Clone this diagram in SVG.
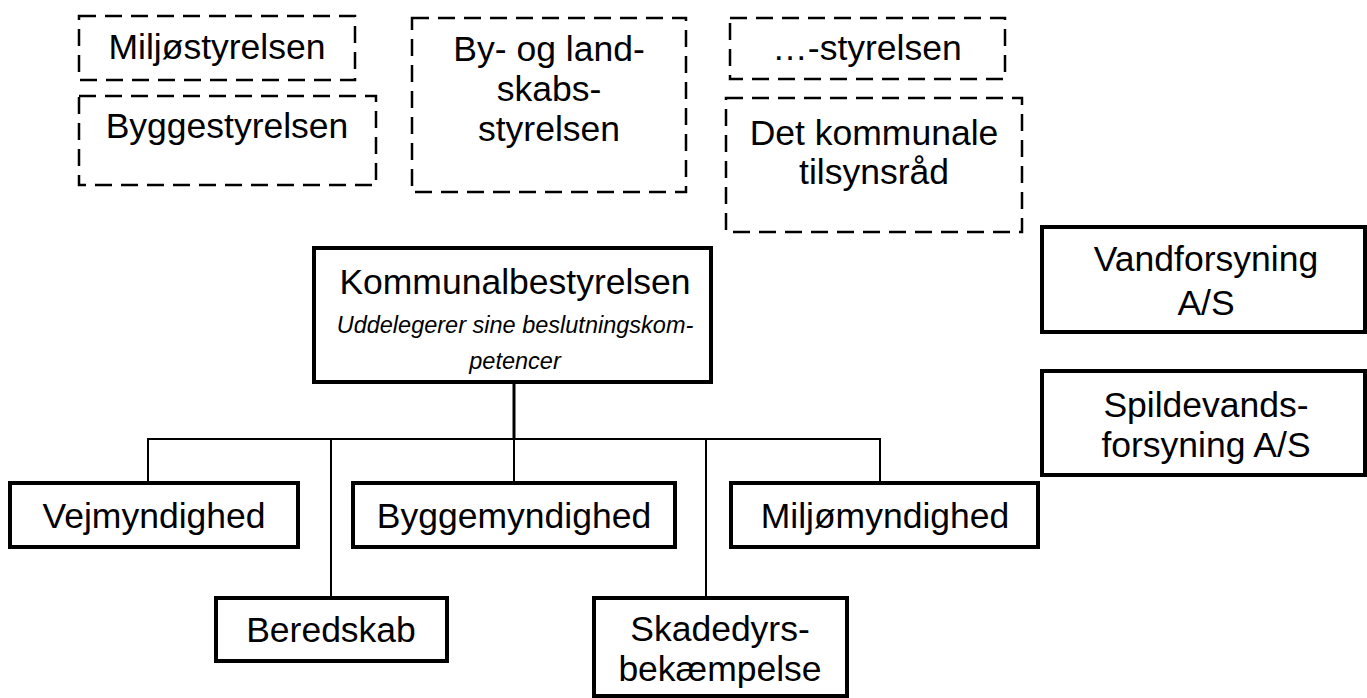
<svg xmlns="http://www.w3.org/2000/svg" width="1367" height="698" viewBox="0 0 1367 698">
<style>
text{font-family:"Liberation Sans",Arial,sans-serif;font-size:35.5px;fill:#000;text-anchor:middle}
.it{font-style:italic;font-size:23.5px}
.dash{fill:#fff;stroke:#000;stroke-width:2.5;stroke-dasharray:17 9}
.box{fill:#fff;stroke:#000;stroke-width:4}
.con{fill:none;stroke:#000;stroke-width:2}
.trunk{fill:none;stroke:#000;stroke-width:3}
</style>
<rect width="1367" height="698" fill="#fff"/>
<g id="connectors">
<line class="trunk" x1="514" y1="382" x2="514" y2="439"/>
<polyline class="con" points="148,483 148,439 880,439 880,483"/>
<line class="con" x1="331" y1="439" x2="331" y2="598"/>
<line class="con" x1="514" y1="439" x2="514" y2="483"/>
<line class="con" x1="706" y1="439" x2="706" y2="598"/>
</g>
<g id="miljostyrelsen"><rect class="dash" x="79" y="16" width="276" height="64"/><text x="217" y="59">Miljøstyrelsen</text></g>
<g id="byggestyrelsen"><rect class="dash" x="79" y="96" width="297" height="89"/><text x="227" y="138">Byggestyrelsen</text></g>
<g id="by-og-landskabsstyrelsen"><rect class="dash" x="412" y="18" width="274" height="174"/><text x="549" y="61">By- og land-</text><text x="549" y="101">skabs-</text><text x="549" y="141">styrelsen</text></g>
<g id="styrelsen"><rect class="dash" x="730" y="18" width="275" height="61"/><text x="867" y="60">…-styrelsen</text></g>
<g id="tilsynsraad"><rect class="dash" x="726" y="98" width="296" height="134"/><text x="874" y="145">Det kommunale</text><text x="874" y="184">tilsynsråd</text></g>
<g id="kommunalbestyrelsen"><rect class="box" x="314" y="248" width="397" height="134"/><text x="515" y="294">Kommunalbestyrelsen</text><text class="it" x="515" y="333">Uddelegerer sine beslutningskom-</text><text class="it" x="515" y="369">petencer</text></g>
<g id="vandforsyning"><rect class="box" x="1042" y="227" width="323" height="105"/><text x="1206" y="271">Vandforsyning</text><text x="1206" y="315">A/S</text></g>
<g id="spildevandsforsyning"><rect class="box" x="1042" y="371" width="323" height="104"/><text x="1206" y="417">Spildevands-</text><text x="1206" y="457">forsyning A/S</text></g>
<g id="vejmyndighed"><rect class="box" x="10" y="483" width="288" height="64"/><text x="154" y="528">Vejmyndighed</text></g>
<g id="byggemyndighed"><rect class="box" x="353" y="483" width="322" height="64"/><text x="514" y="528">Byggemyndighed</text></g>
<g id="miljomyndighed"><rect class="box" x="731" y="483" width="307" height="64"/><text x="885" y="528">Miljømyndighed</text></g>
<g id="beredskab"><rect class="box" x="216" y="598" width="231" height="63"/><text x="331" y="642">Beredskab</text></g>
<g id="skadedyrsbekaempelse"><rect class="box" x="594" y="598" width="253" height="98"/><text x="720" y="641">Skadedyrs-</text><text x="720" y="681">bekæmpelse</text></g>
</svg>
